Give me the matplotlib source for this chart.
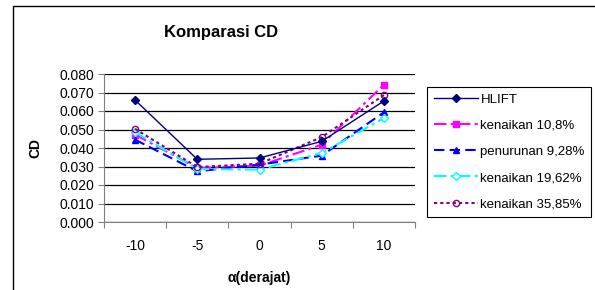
import matplotlib
matplotlib.use("Agg")
import matplotlib.pyplot as plt
from matplotlib.patches import Rectangle

plt.rcParams['font.family'] = ['Liberation Sans', 'DejaVu Sans']

categories = ["-10", "-5", "0", "5", "10"]
hlift = [0.0659, 0.0339, 0.0346, 0.0436, 0.0654]
kenaikan_108 = [0.0472, 0.0292, 0.0304, 0.0418, 0.0742]
penurunan_928 = [0.0445, 0.0274, 0.0310, 0.0359, 0.0593]
kenaikan_1962 = [0.0485, 0.0286, 0.0283, 0.0373, 0.0562]
kenaikan_3585 = [0.0503, 0.0297, 0.0315, 0.0459, 0.0686]
yticks = [0.0, 0.01, 0.02, 0.03, 0.04, 0.05, 0.06, 0.07, 0.08]

fig = plt.figure(figsize=(5.95, 2.9), dpi=100)
fig.patches.append(Rectangle((13/595, -0.1), 1.2, 1 - 6/290 + 0.1, transform=fig.transFigure,
                             fill=False, edgecolor='black', linewidth=1.0, zorder=0))

ax = fig.add_axes([104/595, 1 - 222/290, (415 - 104)/595, (222 - 74)/290])
x = list(range(len(categories)))

ax.plot(x, hlift, color='#000080', lw=1.0, marker='D', ms=4, label='HLIFT', zorder=5)
ax.plot(x, kenaikan_108, color='#FF00FF', lw=1.5, ls=(0, (6, 2, 1.5, 2)), marker='s', ms=5,
        label='kenaikan 10,8%')
ax.plot(x, penurunan_928, color='#0000FF', lw=1.5, ls=(0, (5, 2.5)), marker='^', ms=5,
        label='penurunan 9,28%')
ax.plot(x, kenaikan_1962, color='#00FFFF', lw=1.5, ls=(0, (6, 2, 1.5, 2)), marker='D', ms=4,
        mfc='white', mec='#00FFFF', label='kenaikan 19,62%')
ax.plot(x, kenaikan_3585, color='#800080', lw=1.5, ls=(0, (1.5, 1.5)), marker='o', ms=4.5,
        mfc='none', mec='#800080', label='kenaikan 35,85%')

ax.set_xlim(-0.5, len(categories) - 0.5)
ax.set_ylim(0, 0.08)
ax.set_yticks(yticks)
ax.set_yticklabels([f"{v:.3f}" for v in yticks], fontsize=10)
ax.yaxis.grid(True, color='black', lw=0.9)
ax.set_axisbelow(True)

ax.set_xticks([i - 0.5 for i in range(len(categories) + 1)])
ax.set_xticklabels([])
ax.set_xticks(x, minor=True)
ax.set_xticklabels(categories, minor=True, fontsize=10)
ax.tick_params(axis='x', which='minor', length=0, pad=12)
ax.tick_params(axis='x', which='major', length=4, color='#808080')
ax.tick_params(axis='y', length=4, color='#808080', pad=3)

for s in ['top', 'right']:
    ax.spines[s].set_visible(False)
for s in ['left', 'bottom']:
    ax.spines[s].set_color('#808080')

ax.set_xlabel('α(derajat)', fontsize=10, fontweight='bold', labelpad=13)
ax.set_ylabel('CD', fontsize=10, fontweight='bold', labelpad=12)

fig.text(221/595, 1 - 33/290, 'Komparasi CD', ha='center', va='center', fontsize=12, fontweight='bold')

leg = ax.legend(loc='upper left', bbox_to_anchor=(427/595, 1 - 87/290), bbox_transform=fig.transFigure,
                fontsize=9.5, frameon=True, fancybox=False, edgecolor='black', framealpha=1,
                handlelength=3.4, handletextpad=0.15, labelspacing=1.05, borderpad=0.5, borderaxespad=0)
leg.get_frame().set_linewidth(0.8)

fig.savefig('out.png', dpi=100)
